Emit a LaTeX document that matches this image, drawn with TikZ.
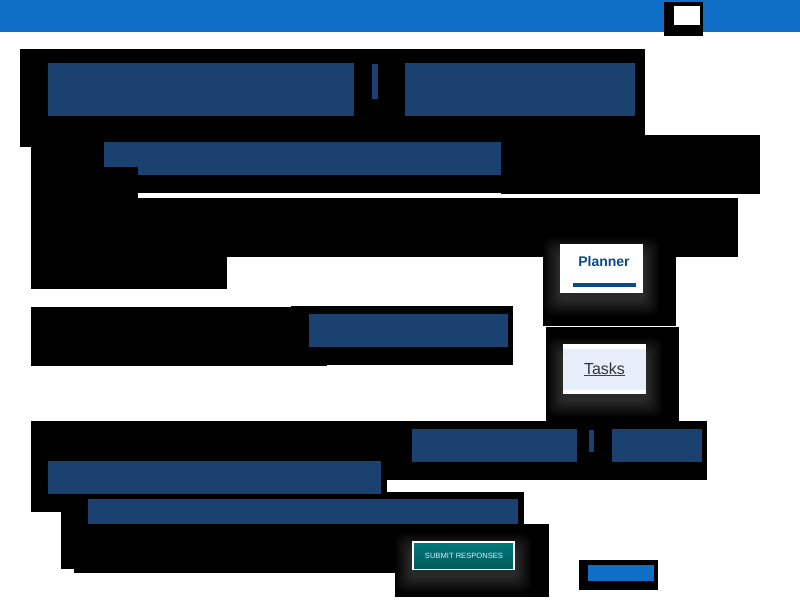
\documentclass[tikz,border=0pt]{standalone}
\usepackage{fontspec}
\setmainfont{Liberation Sans}
\usepackage{tikz}
\usetikzlibrary{positioning}
\definecolor{barblue}{HTML}{0F6EC5}
\definecolor{navyblock}{HTML}{1B4170}
\definecolor{plannerblue}{HTML}{0B4A8A}
\definecolor{tasksbg}{HTML}{E6EEF9}
\definecolor{submittop}{HTML}{00787A}
\definecolor{submitbottom}{HTML}{005B5E}
\tikzset{
    blackout/.style={fill=black},
    redact/.style={fill=navyblock},
    glow/.style={fill=white, fill opacity=0.022, rounded corners=8pt},
    card/.style={fill=white, inner sep=0pt, outer sep=0pt},
}

\begin{document}
\begin{tikzpicture}[x=1pt,y=-1pt]
        \useasboundingbox (0,0) rectangle (800,600);
        \fill[white] (0,0) rectangle (800,600);
        \fill[barblue] (0,0) rectangle (800,32);
        \fill[blackout] (664,2) rectangle (703,36);
        \fill[white] (674,6) rectangle (700,25);
        \foreach \xa/\ya/\xb/\yb in {20/49/645/147, 31/147/501/193, 501/135/760/194, 31/193/138/198,
                31/198/738/257, 31/257/227/289, 543/257/676/326, 546/327/679/421, 31/307/327/366,
                291/306/513/365, 31/421/707/480, 31/480/387/492, 31/492/74/512, 61/512/74/569,
                74/492/524/524, 74/524/549/573, 395/573/549/597, 579/560/658/590}
            \fill[blackout] (\xa,\ya) rectangle (\xb,\yb);
        \foreach \xa/\ya/\xb/\yb in {48/63/354/116, 372/64/378/99, 405/63/635/116, 104/142/501/167,
                138/167/501/175, 309/314/508/347, 412/429/577/462, 589/430/594/452, 612/429/702/462,
                48/461/381/494, 88/499/518/524}
            \fill[redact] (\xa,\ya) rectangle (\xb,\yb);
        \foreach \r in {2,4,...,16} {
            \fill[glow] (560-\r,254-\r) rectangle (643+\r,299+\r);
            \fill[glow] (563-\r,354-\r) rectangle (646+\r,400+\r);
            \fill[glow] (412-\r,550-\r) rectangle (515+\r,576+\r);
        }
        \node[card, minimum width=83pt, minimum height=49pt] (plannercard) at (601.5,268.5) {};
        \node[text=plannerblue, font=\bfseries\fontsize{14}{16}\selectfont] (planner) at (604,261) {Planner};
        \fill[plannerblue] (573,283) rectangle (636,287);
        \node[card, minimum width=83pt, minimum height=50pt] (taskscard) at (604.5,369) {};
        \fill[tasksbg] (563,349) rectangle (646,390);
        \node[text=black!80, font=\fontsize{16}{18}\selectfont, inner sep=0pt] (tasks) at (604.5,368.5) {Tasks};
        \draw[black!75, line width=1pt] ([yshift=-1.5pt]tasks.base west) -- ([yshift=-1.5pt]tasks.base east);
        \node[card, minimum width=103pt, minimum height=29pt] (submitframe) at (463.5,555.5) {};
        \shade[top color=submittop, bottom color=submitbottom] (414,543) rectangle (513,568);
        \node[text=white!85!cyan, font=\fontsize{7.6}{8}\selectfont] (submit) at (464,555.5) {SUBMIT RESPONSES};
        \fill[barblue] (588,565) rectangle (654,581);
    \end{tikzpicture}
\end{document}
